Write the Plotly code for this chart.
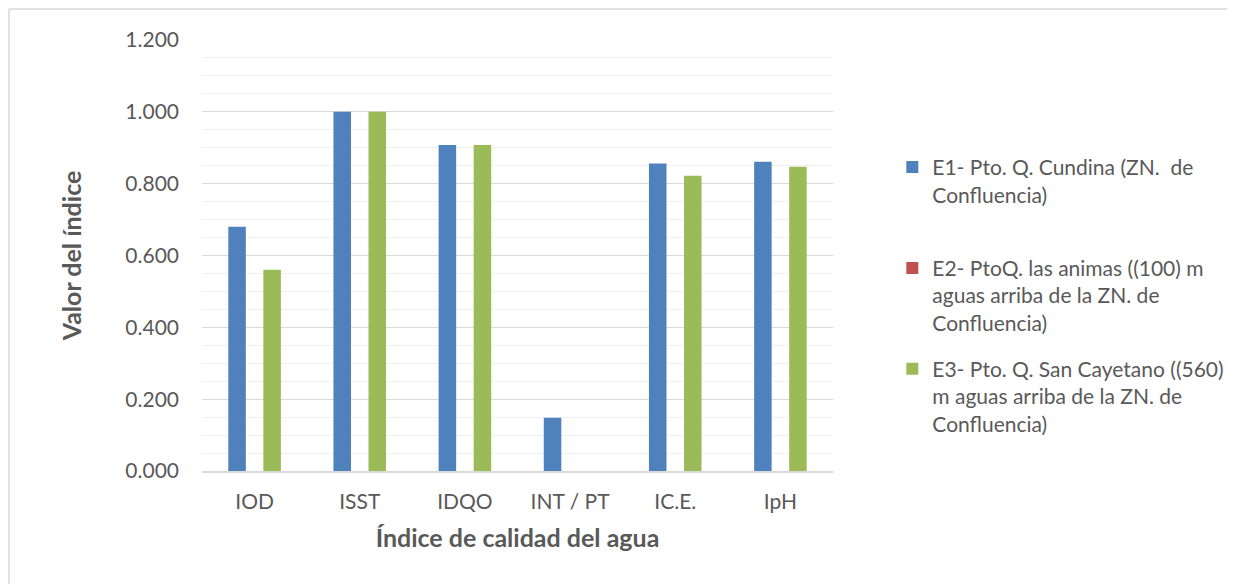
import plotly.graph_objects as go

categories = ["IOD", "ISST", "IDQO", "INT / PT", "IC.E.", "IpH"]
e1_values = [0.680, 1.000, 0.908, 0.148, 0.856, 0.861]
e2_values = [0.0, 0.0, 0.0, 0.0, 0.0, 0.0]
e3_values = [0.560, 1.000, 0.908, 0.0, 0.822, 0.847]

series_names = [
    "E1- Pto. Q. Cundina (ZN.  de<br>Confluencia)<br> ",
    "E2- PtoQ. las animas ((100) m<br>aguas arriba de la ZN. de<br>Confluencia)",
    "E3- Pto. Q. San Cayetano ((560)<br>m aguas arriba de la ZN. de<br>Confluencia)",
]
series_colors = ["#4F81BD", "#C0504D", "#9BBB59"]

FONT = "Lato, Calibri, sans-serif"
TEXT = "#595959"

# page body adds an 8px offset; plot area sits at x 202-833, y 40-471 in the source
OFF = 8
W, H = 1235 - OFF, 584 - OFF
L, T, PW, PH = 202 - OFF, 40 - OFF, 631, 431

fig = go.Figure()
for name, values, color in zip(series_names, [e1_values, e2_values, e3_values], series_colors):
    fig.add_trace(
        go.Bar(
            x=categories,
            y=values,
            name=name,
            legendgroup=name,
            marker={"color": color, "line": {"width": 0}},
        )
    )

fig.update_layout(
    width=W,
    height=H,
    template="plotly_white",
    barmode="group",
    bargap=0.5,
    bargroupgap=0.0,
    plot_bgcolor="white",
    paper_bgcolor="white",
    font={"family": FONT, "color": TEXT, "size": 21},
    margin={"l": L, "r": W - L - PW, "t": T, "b": H - T - PH, "autoexpand": False},
    showlegend=True,
    legend={
        "x": 1.094,
        "y": 0.752,
        "xanchor": "left",
        "yanchor": "top",
        "font": {"family": FONT, "size": 21, "color": TEXT},
        "valign": "top",
        "tracegroupgap": 16,
        "itemwidth": 30,
        "bgcolor": "rgba(0,0,0,0)",
    },
    xaxis={
        "showline": True,
        "linecolor": "#d9d9d9",
        "linewidth": 1.5,
        "showgrid": False,
        "ticks": "",
        "ticklabelstandoff": 11,
        "tickfont": {"size": 21, "color": TEXT},
        "title": {
            "text": "<b>Índice de calidad del agua</b>",
            "font": {"size": 25, "color": TEXT},
            "standoff": 18,
        },
    },
    yaxis={
        "range": [0, 1.2],
        "dtick": 0.2,
        "tick0": 0,
        "tickformat": ".3f",
        "showgrid": True,
        "gridcolor": "#d9d9d9",
        "gridwidth": 1.3,
        "zeroline": False,
        "ticks": "",
        "ticklabelstandoff": 22,
        "tickfont": {"size": 21, "color": TEXT},
        "minor": {"dtick": 0.05, "showgrid": True, "gridcolor": "#f0f0f0", "gridwidth": 1.3},
        "title": {
            "text": "<b>Valor del índice</b>",
            "font": {"size": 25, "color": TEXT},
            "standoff": 36,
        },
    },
)

# chart frame (left and top edges visible in the source)
fx = (9 - 202) / PW
fy = (471 - 9) / PH
fig.add_shape(type="line", xref="paper", yref="paper",
              x0=fx, x1=fx, y0=fy, y1=(471 - 620) / PH,
              line={"color": "#d9d9d9", "width": 1.5})
fig.add_shape(type="line", xref="paper", yref="paper",
              x0=fx, x1=(1260 - 202) / PW, y0=fy, y1=fy,
              line={"color": "#d9d9d9", "width": 1.5})

fig.write_html("out.html")
